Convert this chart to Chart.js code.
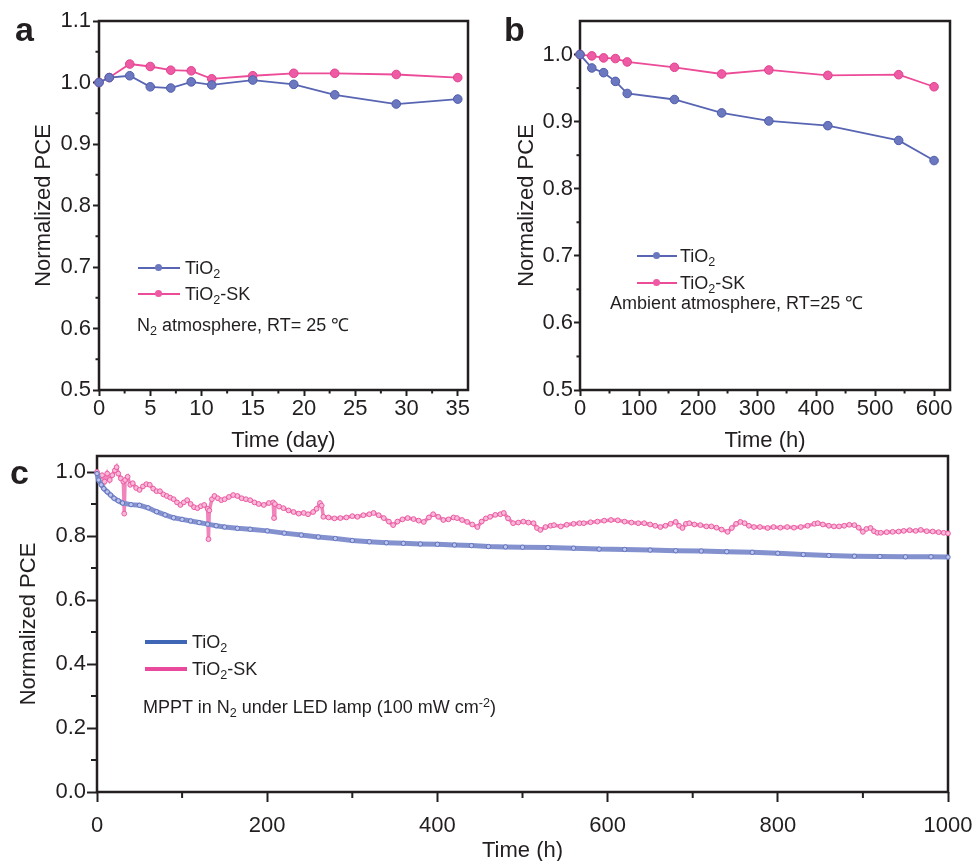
<!DOCTYPE html>
<html>
<head>
<meta charset="utf-8">
<script src="https://cdn.jsdelivr.net/npm/chart.js@4.4.1/dist/chart.umd.min.js"></script>
<style>
  html, body { margin:0; padding:0; background:#fff; width:972px; height:861px; overflow:hidden; }
  body { position:relative; font-family:"Liberation Sans", Arial, Helvetica, sans-serif; color:#231f20; }
  .box { position:absolute; }
  .lbl { position:absolute; font-weight:bold; font-size:34px; line-height:1; }
  .leg { position:absolute; font-size:18px; line-height:1; white-space:nowrap; }
  .leg .ln { position:absolute; height:2px; }
  .leg .dot { position:absolute; width:7px; height:7px; border-radius:50%; }
  .leg .tx { position:absolute; }
  .note { position:absolute; font-size:18px; white-space:nowrap; line-height:1; }
  sub { font-size:0.7em; vertical-align:-0.3em; line-height:0; }
  sup { font-size:0.7em; vertical-align:0.5em; line-height:0; }
</style>
</head>
<body>
<div class="box" style="left:0;top:0;width:485px;height:460px;"><canvas id="ca"></canvas></div>
<div class="box" style="left:480px;top:0;width:492px;height:460px;"><canvas id="cb"></canvas></div>
<div class="box" style="left:0;top:440px;width:972px;height:424px;"><canvas id="cc"></canvas></div>

<div class="lbl" style="left:15px;top:12px;">a</div>
<div class="lbl" style="left:504px;top:12px;">b</div>
<div class="lbl" style="left:10px;top:455px;">c</div>

<!-- legend a -->
<div class="leg" style="left:138px;top:259px;">
  <div class="ln" style="left:0;top:8px;width:42px;background:#5865b3"></div>
  <div class="dot" style="left:17px;top:5px;background:#6b78c0"></div>
  <div class="tx" style="left:47px;top:0;">TiO<sub>2</sub></div>
</div>
<div class="leg" style="left:138px;top:285px;">
  <div class="ln" style="left:0;top:8px;width:42px;background:#ec4b98"></div>
  <div class="dot" style="left:17px;top:5px;background:#ef5aa4"></div>
  <div class="tx" style="left:47px;top:0;">TiO<sub>2</sub>-SK</div>
</div>
<div class="note" style="left:137px;top:316px;">N<sub>2</sub> atmosphere, RT= 25 &#8451;</div>

<!-- legend b -->
<div class="leg" style="left:637px;top:247px;">
  <div class="ln" style="left:0;top:8px;width:40px;background:#5865b3"></div>
  <div class="dot" style="left:16px;top:5px;background:#6b78c0"></div>
  <div class="tx" style="left:43px;top:0;">TiO<sub>2</sub></div>
</div>
<div class="leg" style="left:637px;top:274px;">
  <div class="ln" style="left:0;top:8px;width:40px;background:#ec4b98"></div>
  <div class="dot" style="left:16px;top:5px;background:#ef5aa4"></div>
  <div class="tx" style="left:43px;top:0;">TiO<sub>2</sub>-SK</div>
</div>
<div class="note" style="left:610px;top:294px;">Ambient atmosphere, RT=25 &#8451;</div>

<!-- legend c -->
<div class="leg" style="left:145px;top:633px;">
  <div class="ln" style="left:0;top:7px;width:42px;height:4px;background:#3f67b5"></div>
  <div class="tx" style="left:47px;top:0;">TiO<sub>2</sub></div>
</div>
<div class="leg" style="left:145px;top:660px;">
  <div class="ln" style="left:0;top:7px;width:42px;height:4px;background:#ea4a9c"></div>
  <div class="tx" style="left:47px;top:0;">TiO<sub>2</sub>-SK</div>
</div>
<div class="note" style="left:143px;top:698px;">MPPT in N<sub>2</sub> under LED lamp (100 mW cm<sup>-2</sup>)</div>

<script>
// ---------------- DATA ----------------
// Panel a: N2 atmosphere
const aDays   = [0, 1, 3, 5, 7, 9, 11, 15, 19, 23, 29, 35];
const aTiO2   = [1.000, 1.008, 1.011, 0.993, 0.991, 1.001, 0.996, 1.004, 0.997, 0.980, 0.965, 0.973];
const aTiO2SK = [1.000, 1.008, 1.030, 1.026, 1.020, 1.019, 1.006, 1.011, 1.015, 1.015, 1.013, 1.008];
const aXTicks = [0, 5, 10, 15, 20, 25, 30, 35];
const aXMinor = [2.5, 7.5, 12.5, 17.5, 22.5, 27.5, 32.5];
const aYTicks = [0.5, 0.6, 0.7, 0.8, 0.9, 1.0, 1.1];
const aYMinor = [0.55, 0.65, 0.75, 0.85, 0.95, 1.05];

// Panel b: ambient atmosphere
const bHours  = [0, 20, 40, 60, 80, 160, 240, 320, 420, 540, 600];
const bTiO2   = [1.000, 0.980, 0.973, 0.960, 0.942, 0.933, 0.913, 0.901, 0.894, 0.872, 0.842];
const bTiO2SK = [1.000, 0.998, 0.995, 0.994, 0.989, 0.981, 0.971, 0.977, 0.969, 0.970, 0.952];
const bXTicks = [0, 100, 200, 300, 400, 500, 600];
const bXMinor = [50, 150, 250, 350, 450, 550];
const bYTicks = [0.5, 0.6, 0.7, 0.8, 0.9, 1.0];
const bYMinor = [0.55, 0.65, 0.75, 0.85, 0.95];

// Panel c: MPPT tracking
const cHoursTiO2 = [0, 2, 5, 8, 12, 16, 20, 25, 30, 40, 50, 60, 70, 80, 90, 100, 110, 120, 130, 140, 150, 165, 180, 200, 220, 240, 260, 280, 300, 320, 340, 360, 380, 400, 420, 440, 460, 480, 500, 530, 560, 590, 620, 650, 680, 710, 740, 770, 800, 830, 860, 890, 920, 950, 980, 1000];
const cTiO2 = [0.995, 0.975, 0.960, 0.948, 0.938, 0.928, 0.918, 0.910, 0.903, 0.898, 0.896, 0.888, 0.876, 0.866, 0.857, 0.852, 0.847, 0.842, 0.837, 0.832, 0.828, 0.824, 0.821, 0.816, 0.809, 0.803, 0.797, 0.792, 0.786, 0.782, 0.779, 0.777, 0.775, 0.774, 0.772, 0.770, 0.767, 0.766, 0.765, 0.764, 0.762, 0.759, 0.758, 0.756, 0.754, 0.753, 0.751, 0.749, 0.746, 0.742, 0.739, 0.737, 0.736, 0.735, 0.735, 0.734];
const cHoursSK = [0, 3, 6, 9, 12, 15, 18, 21, 23, 25, 28, 31, 32, 33, 36, 39, 42, 46, 50, 54, 58, 62, 66, 70, 74, 78, 82, 86, 90, 94, 98, 102, 106, 110, 114, 118, 122, 126, 130, 131, 132, 135, 138, 142, 146, 150, 155, 160, 165, 170, 175, 180, 185, 190, 196, 202, 207, 208, 209, 214, 219, 225, 231, 237, 243, 248, 254, 258, 262, 264, 266, 272, 279, 286, 293, 300, 306, 313, 320, 325, 331, 337, 343, 348, 353, 359, 365, 372, 378, 384, 390, 395, 401, 407, 413, 419, 423, 429, 435, 441, 447, 452, 457, 462, 468, 474, 478, 483, 489, 495, 501, 507, 513, 517, 521, 527, 533, 537, 545, 552, 560, 567, 572, 580, 588, 596, 604, 612, 620, 628, 636, 643, 650, 656, 662, 668, 674, 680, 684, 688, 692, 696, 702, 709, 716, 722, 728, 734, 741, 746, 751, 756, 761, 766, 772, 779, 788, 795, 803, 811, 819, 827, 835, 843, 847, 853, 860, 866, 872, 878, 884, 890, 895, 900, 904, 909, 913, 917, 921, 928, 935, 942, 948, 955, 962, 968, 975, 982, 989, 995, 1000];
const cTiO2SK = [1.000, 0.985, 0.990, 0.970, 0.995, 0.975, 0.990, 1.005, 1.015, 0.995, 0.980, 0.970, 0.870, 0.975, 0.985, 0.960, 0.965, 0.950, 0.944, 0.955, 0.962, 0.960, 0.948, 0.940, 0.940, 0.930, 0.925, 0.920, 0.915, 0.905, 0.897, 0.905, 0.912, 0.900, 0.890, 0.887, 0.893, 0.897, 0.885, 0.790, 0.880, 0.915, 0.925, 0.918, 0.912, 0.915, 0.922, 0.928, 0.925, 0.918, 0.915, 0.912, 0.905, 0.900, 0.897, 0.903, 0.905, 0.856, 0.900, 0.892, 0.887, 0.880, 0.875, 0.870, 0.872, 0.868, 0.875, 0.885, 0.903, 0.895, 0.860, 0.858, 0.855, 0.856, 0.858, 0.862, 0.860, 0.865, 0.868, 0.872, 0.865, 0.856, 0.845, 0.834, 0.845, 0.852, 0.856, 0.853, 0.848, 0.844, 0.858, 0.868, 0.860, 0.850, 0.852, 0.858, 0.856, 0.850, 0.844, 0.836, 0.828, 0.845, 0.855, 0.860, 0.866, 0.868, 0.872, 0.855, 0.840, 0.842, 0.845, 0.842, 0.840, 0.825, 0.819, 0.828, 0.832, 0.834, 0.830, 0.835, 0.838, 0.840, 0.840, 0.843, 0.845, 0.848, 0.850, 0.849, 0.845, 0.842, 0.840, 0.840, 0.836, 0.832, 0.828, 0.832, 0.838, 0.844, 0.832, 0.825, 0.838, 0.840, 0.836, 0.834, 0.830, 0.830, 0.826, 0.820, 0.813, 0.825, 0.838, 0.844, 0.840, 0.832, 0.828, 0.828, 0.825, 0.828, 0.826, 0.828, 0.826, 0.828, 0.832, 0.838, 0.840, 0.836, 0.832, 0.830, 0.830, 0.832, 0.835, 0.834, 0.826, 0.813, 0.822, 0.825, 0.815, 0.810, 0.810, 0.812, 0.813, 0.814, 0.816, 0.818, 0.816, 0.819, 0.815, 0.814, 0.812, 0.810, 0.808];
const cXTicks = [0, 200, 400, 600, 800, 1000];
const cXMinor = [100, 300, 500, 700, 900];
const cYTicks = [0.0, 0.2, 0.4, 0.6, 0.8, 1.0];
const cYMinor = [0.1, 0.3, 0.5, 0.7, 0.9];

// ---------------- HELPERS ----------------
const INK = '#231f20';
const FONT = '"Liberation Sans", Arial, Helvetica, sans-serif';
Chart.defaults.font.family = FONT;
Chart.defaults.color = INK;

const pts = (xs, ys) => xs.map((x, i) => ({x: x, y: ys[i]}));

const framePlugin = {
  id: 'frame',
  beforeDatasetsDraw(chart) {
    const a = chart.chartArea, ctx = chart.ctx;
    ctx.save();
    ctx.strokeStyle = INK;
    ctx.lineWidth = 2.5;
    ctx.strokeRect(a.left, a.top, a.right - a.left, a.bottom - a.top);
    ctx.restore();
  },
  afterDraw(chart, args, opts) {
    const ctx = chart.ctx, a = chart.chartArea;
    ctx.save();
    ctx.strokeStyle = INK;
    ctx.lineWidth = 2;
    const len = opts.len || 3;
    (opts.x || []).forEach(v => {
      const px = chart.scales.x.getPixelForValue(v);
      ctx.beginPath(); ctx.moveTo(px, a.bottom); ctx.lineTo(px, a.bottom + len); ctx.stroke();
    });
    (opts.y || []).forEach(v => {
      const py = chart.scales.y.getPixelForValue(v);
      ctx.beginPath(); ctx.moveTo(a.left, py); ctx.lineTo(a.left - len, py); ctx.stroke();
    });
    ctx.restore();
  }
};

function axis(cfg) {
  return {
    type: 'linear',
    min: cfg.min, max: cfg.max,
    afterBuildTicks: s => { s.ticks = cfg.ticks.map(v => ({value: v})); },
    afterFit: s => {
      if (cfg.w !== undefined) s.width = cfg.w;
      if (cfg.h !== undefined) { s.height = cfg.h; s.paddingRight = 0; s.paddingLeft = 0; }
    },
    border: {display: false},
    grid: {display: true, drawOnChartArea: false, drawTicks: true, tickLength: cfg.tl, tickWidth: 2, tickColor: INK},
    ticks: {
      font: {size: 22}, color: INK, padding: cfg.pad, maxRotation: 0, autoSkip: false,
      callback: v => cfg.fmt(v)
    },
    title: {display: true, text: cfg.title, font: {size: 22}, color: INK, padding: cfg.tpad}
  };
}

function smallChart(id, xs, y1, y2, o) {
  new Chart(document.getElementById(id), {
    type: 'line',
    data: {
      datasets: [
        {label: 'TiO2', data: pts(xs, y1), borderColor: '#5865b3', borderWidth: 1.8,
         pointRadius: 4.3, pointBackgroundColor: '#6b78c0', pointBorderColor: '#4f5cab', pointBorderWidth: 1,
         tension: 0, clip: 10},
        {label: 'TiO2-SK', data: pts(xs, y2), borderColor: '#ec4b98', borderWidth: 1.8,
         pointRadius: 4.3, pointBackgroundColor: '#ef5aa4', pointBorderColor: '#e0408e', pointBorderWidth: 1,
         tension: 0, clip: 10}
      ]
    },
    options: {
      responsive: true, maintainAspectRatio: false, animation: false,
      layout: {padding: o.padding},
      plugins: {legend: {display: false}, tooltip: {enabled: false}, frame: o.minor},
      scales: {x: o.x, y: o.y}
    },
    plugins: [framePlugin]
  });
}

smallChart('ca', aDays, aTiO2, aTiO2SK, {
  padding: {top: 21, right: 17, bottom: 0, left: 0},
  minor: {x: aXMinor, y: aYMinor, len: 3.5},
  x: axis({min: 0, max: 36, ticks: aXTicks, h: 70, tl: 6, pad: 0, fmt: v => String(v), title: 'Time (day)', tpad: {top: 0, bottom: 6}}),
  y: axis({min: 0.5, max: 1.1, ticks: aYTicks, w: 99, tl: 6, pad: 2, fmt: v => v.toFixed(1), title: 'Normalized PCE', tpad: {top: 31, bottom: 0}})
});

smallChart('cb', bHours, bTiO2, bTiO2SK, {
  padding: {top: 21, right: 22, bottom: 0, left: 0},
  minor: {x: bXMinor, y: bYMinor, len: 3.5},
  x: axis({min: 0, max: 627, ticks: bXTicks, h: 70, tl: 6, pad: 0, fmt: v => String(v), title: 'Time (h)', tpad: {top: 0, bottom: 6}}),
  y: axis({min: 0.5, max: 1.05, ticks: bYTicks, w: 100, tl: 6, pad: 1, fmt: v => v.toFixed(1), title: 'Normalized PCE', tpad: {top: 34, bottom: 0}})
});

new Chart(document.getElementById('cc'), {
  type: 'line',
  data: {
    datasets: [
      {label: 'TiO2', data: pts(cHoursTiO2, cTiO2), borderColor: '#8391ce', borderWidth: 5,
       pointRadius: 2.2, pointBackgroundColor: '#bcc4ea', pointBorderColor: '#6373c0', pointBorderWidth: 1,
       tension: 0, clip: 6},
      {label: 'TiO2-SK', data: pts(cHoursSK, cTiO2SK), borderColor: '#f084bb', borderWidth: 3.5,
       pointRadius: 2.4, pointBackgroundColor: '#f8b8d7', pointBorderColor: '#ec5aa3', pointBorderWidth: 1,
       tension: 0, clip: 6}
    ]
  },
  options: {
    responsive: true, maintainAspectRatio: false, animation: false,
    layout: {padding: {top: 16, right: 24, bottom: 0, left: 0}},
    plugins: {legend: {display: false}, tooltip: {enabled: false}, frame: {x: cXMinor, y: cYMinor, len: 6}},
    scales: {
      x: axis({min: 0, max: 1000, ticks: cXTicks, h: 72, tl: 10, pad: 11, fmt: v => String(v), title: 'Time (h)', tpad: {top: 0, bottom: 0}}),
      y: axis({min: 0, max: 1.05, ticks: cYTicks, w: 97, tl: 10, pad: 1, fmt: v => v.toFixed(1), title: 'Normalized PCE', tpad: {top: 16, bottom: 0}})
    }
  },
  plugins: [framePlugin]
});
</script>
</body>
</html>
